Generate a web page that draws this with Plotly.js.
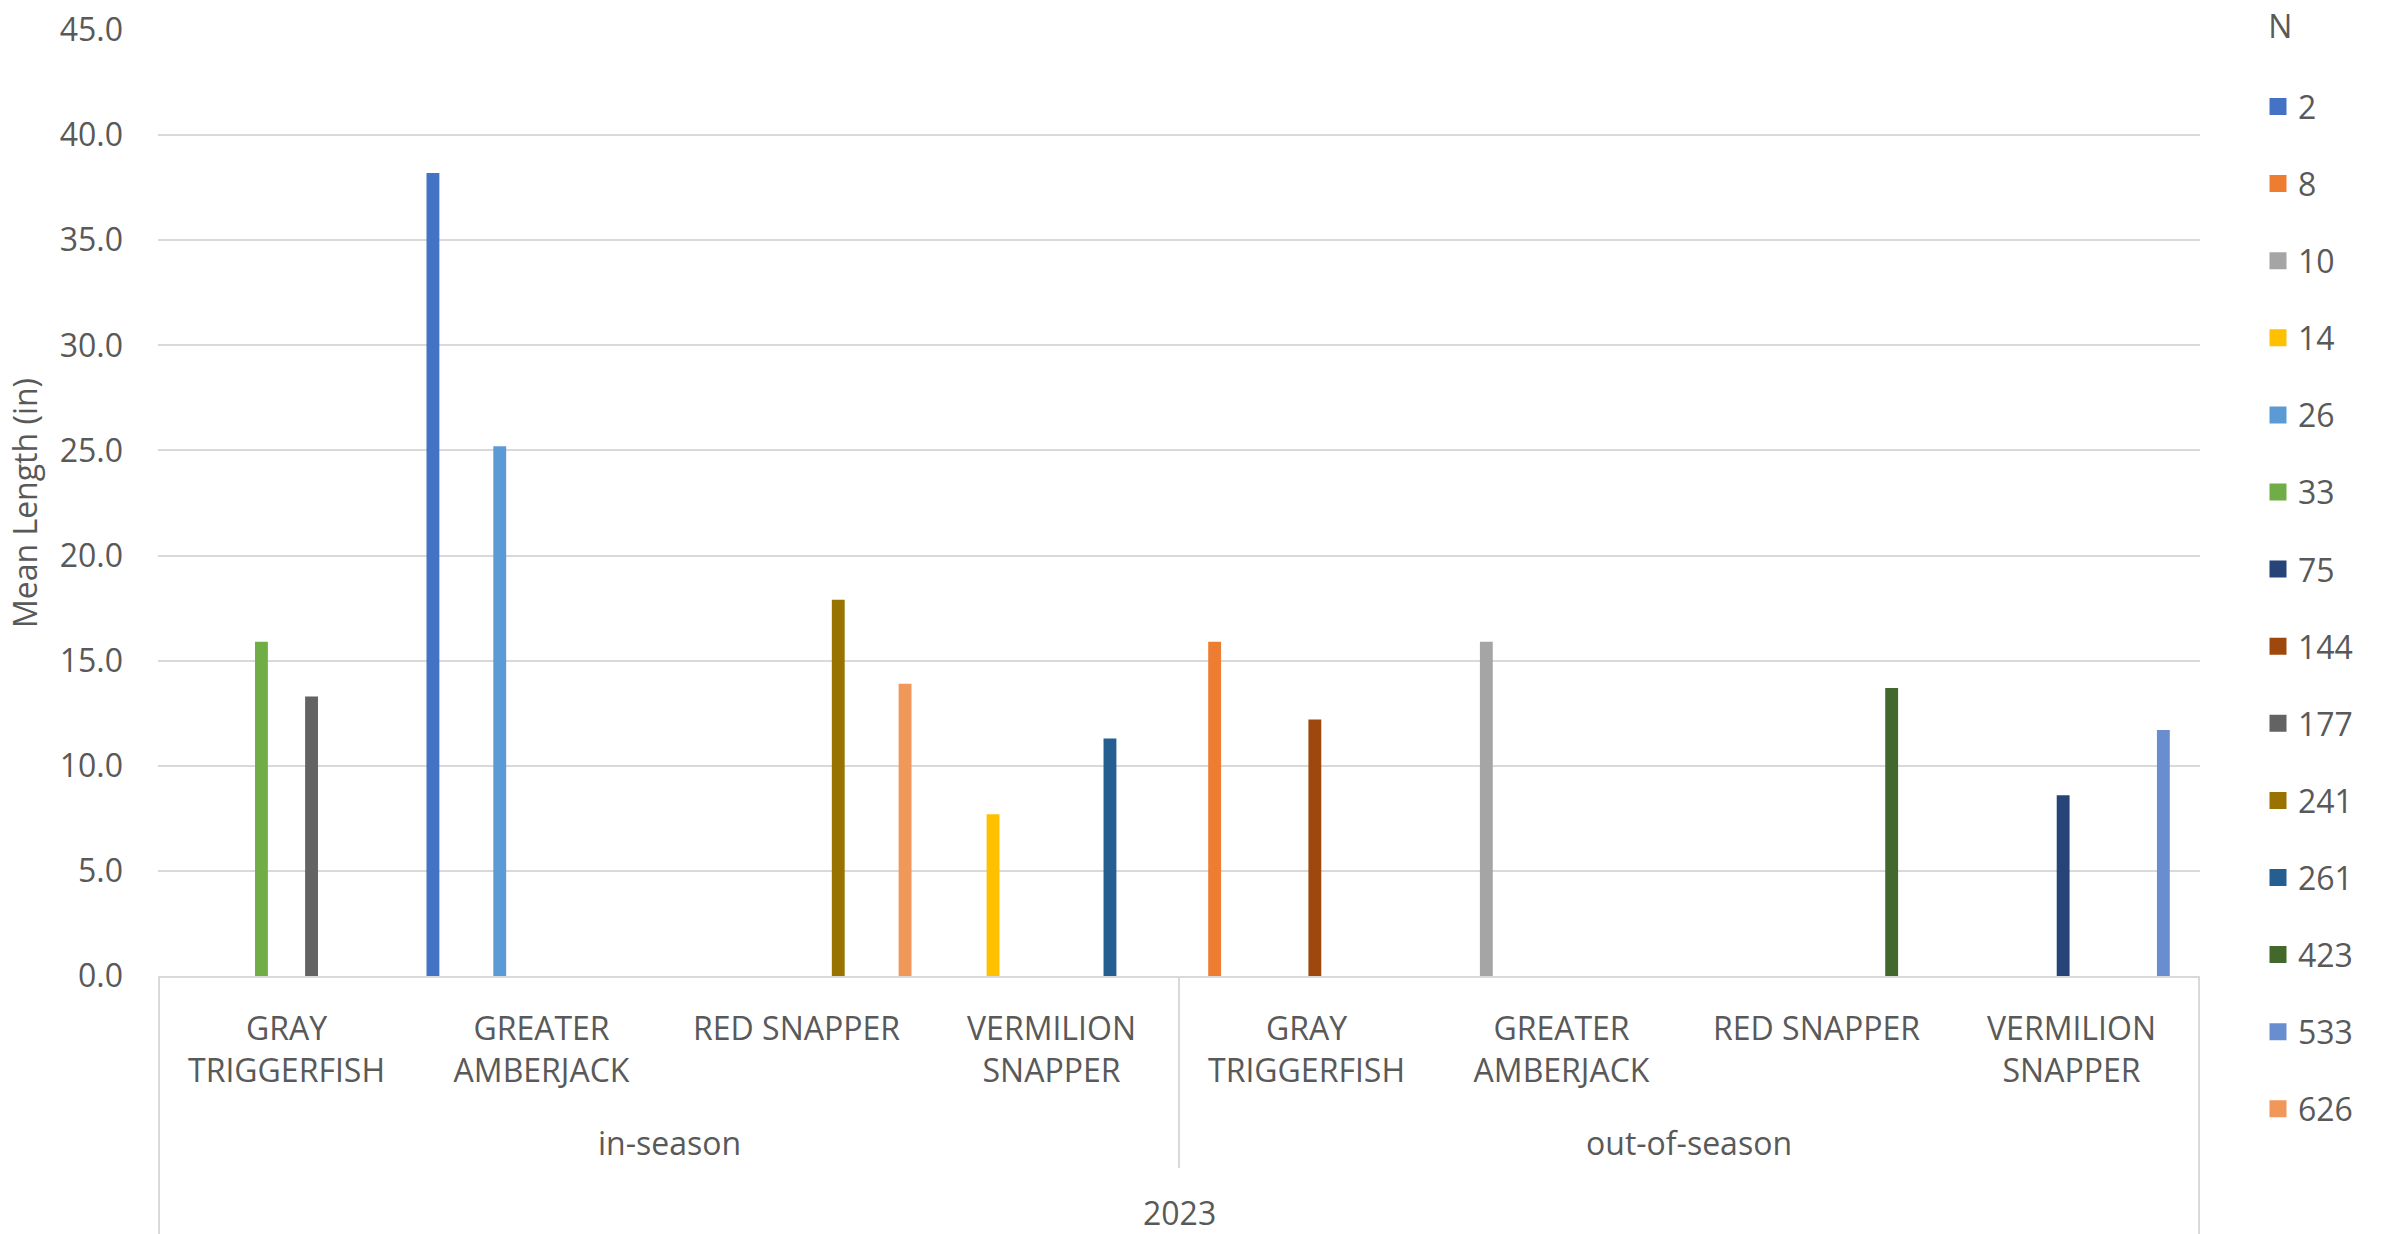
<!DOCTYPE html>
<html>
<head>
<meta charset="utf-8">
<script src="https://cdn.plot.ly/plotly-3.0.1.min.js"></script>
<style>
  html, body { margin: 0; padding: 0; background: #ffffff; }
  #chart { width: 2384px; height: 1234px; }
</style>
</head>
<body>
<div id="chart"></div>
<script>
// ---- Data ----
const year = "2023";
const seasons = ["in-season", "out-of-season"];
const species = ["GRAY TRIGGERFISH", "GREATER AMBERJACK", "RED SNAPPER", "VERMILION SNAPPER"];
const speciesLabels = ["GRAY<br>TRIGGERFISH", "GREATER<br>AMBERJACK", "RED SNAPPER", "VERMILION<br>SNAPPER"];

// Series = sample size N; values = mean length (in) per category
// category order: in-season [GT, GA, RS, VS], out-of-season [GT, GA, RS, VS]
const sampleSizes = ["2", "8", "10", "14", "26", "33", "75", "144", "177", "241", "261", "423", "533", "626"];
const lenN2   = [null, 38.2, null, null, null, null, null, null];
const lenN8   = [null, null, null, null, 15.9, null, null, null];
const lenN10  = [null, null, null, null, null, 15.9, null, null];
const lenN14  = [null, null, null, 7.7,  null, null, null, null];
const lenN26  = [null, 25.2, null, null, null, null, null, null];
const lenN33  = [15.9, null, null, null, null, null, null, null];
const lenN75  = [null, null, null, null, null, null, null, 8.6];
const lenN144 = [null, null, null, null, 12.2, null, null, null];
const lenN177 = [13.3, null, null, null, null, null, null, null];
const lenN241 = [null, null, 17.9, null, null, null, null, null];
const lenN261 = [null, null, null, 11.3, null, null, null, null];
const lenN423 = [null, null, null, null, null, null, 13.7, null];
const lenN533 = [null, null, null, null, null, null, null, 11.7];
const lenN626 = [null, null, 13.9, null, null, null, null, null];

// ---- Styles ----
const seriesColors = ["#4472C4", "#ED7D31", "#A5A5A5", "#FFC000", "#5B9BD5", "#70AD47",
                      "#264478", "#9E480E", "#636363", "#997300", "#255E91", "#43682B",
                      "#698ED0", "#F1975A"];
const FONT = "'Open Sans', 'Noto Sans', 'Liberation Sans', sans-serif";
const FS = 32;
const TXT = "#595959";
const GRID = "#D9D9D9";

const seriesValues = [lenN2, lenN8, lenN10, lenN14, lenN26, lenN33, lenN75, lenN144,
                      lenN177, lenN241, lenN261, lenN423, lenN533, lenN626];

const categories = seasons.flatMap(s => species.map(sp => s + " | " + sp));
const tickText = seasons.flatMap(() => speciesLabels);

// Real bars (legend entries come from the swatch-only traces below)
const barTraces = sampleSizes.map((n, i) => ({
  type: "bar",
  name: n,
  legendgroup: "g" + n,
  showlegend: false,
  x: categories,
  y: seriesValues[i],
  marker: { color: seriesColors[i] },
  hovertemplate: "%{x}<br>N=" + n + ": %{y:.1f}<extra></extra>"
}));

// Legend swatches (no drawn bar, on a hidden overlay axis so they take no bar slots)
const legendTraces = sampleSizes.map((n, i) => ({
  type: "bar",
  name: n,
  legendgroup: "g" + n,
  showlegend: true,
  x: [categories[0]],
  y: [null],
  xaxis: "x2",
  yaxis: "y2",
  hoverinfo: "skip",
  marker: { color: seriesColors[i], line: { color: seriesColors[i], width: 5 } }
}));

// pixel helpers for paper coords (plot area 158..2200 x 30..976)
const PL = 158, PR = 2200, PT = 30, PB = 976;
const py = (p) => (PB - p) / (PB - PT);
const px = (p) => (p - PL) / (PR - PL);

const layout = {
  width: 2384,
  height: 1234,
  margin: { l: PL, r: 2384 - PR, t: PT, b: 1234 - PB, pad: 0, autoexpand: false },
  paper_bgcolor: "#ffffff",
  plot_bgcolor: "#ffffff",
  font: { family: FONT, size: FS, color: TXT },
  barmode: "group",
  bargap: 0.083,
  bargroupgap: 0.23,
  showlegend: true,
  legend: {
    title: { text: "\u00a0N<br>\u00a0", font: { family: FONT, size: FS, color: TXT } },
    font: { family: FONT, size: FS, color: TXT },
    traceorder: "grouped",
    tracegroupgap: 32.5,
    maxheight: 1234,
    x: px(2258),
    xanchor: "left",
    y: py(-4),
    yanchor: "top",
    bgcolor: "rgba(0,0,0,0)",
    borderwidth: 0
  },
  xaxis: {
    type: "category",
    categoryorder: "array",
    categoryarray: categories,
    tickvals: categories,
    ticktext: tickText,
    ticks: "",
    showgrid: false,
    showline: true,
    linecolor: GRID,
    linewidth: 2,
    zeroline: false,
    tickfont: { family: FONT, size: FS, color: TXT },
    ticklabelstandoff: 24,
    fixedrange: true
  },
  yaxis: {
    range: [0, 45],
    dtick: 5,
    tick0: 0,
    tickformat: ".1f",
    showgrid: true,
    gridcolor: GRID,
    gridwidth: 2,
    zeroline: false,
    showline: false,
    ticks: "",
    ticklabelstandoff: 34,
    tickfont: { family: FONT, size: FS, color: TXT },
    title: { text: "Mean Length (in)", font: { family: FONT, size: FS, color: TXT }, standoff: 12 },
    fixedrange: true
  },
  xaxis2: { overlaying: "x", visible: false, fixedrange: true, type: "category" },
  yaxis2: { overlaying: "y", visible: false, fixedrange: true, range: [0, 1] },
  shapes: [
    { type: "line", xref: "x", yref: "paper", x0: -0.5, x1: -0.5, y0: 0, y1: py(1234), line: { color: GRID, width: 2 } },
    { type: "line", xref: "x", yref: "paper", x0: 3.5, x1: 3.5, y0: 0, y1: py(1168), line: { color: GRID, width: 2 } },
    { type: "line", xref: "x", yref: "paper", x0: 7.5, x1: 7.5, y0: 0, y1: py(1234), line: { color: GRID, width: 2 } }
  ],
  annotations: [
    { xref: "x", yref: "paper", x: 1.5, y: py(1142), text: seasons[0], showarrow: false, yanchor: "middle", xanchor: "center", font: { family: FONT, size: FS, color: TXT } },
    { xref: "x", yref: "paper", x: 5.5, y: py(1142), text: seasons[1], showarrow: false, yanchor: "middle", xanchor: "center", font: { family: FONT, size: FS, color: TXT } },
    { xref: "x", yref: "paper", x: 3.5, y: py(1212), text: year, showarrow: false, yanchor: "middle", xanchor: "center", font: { family: FONT, size: FS, color: TXT } }
  ]
};

Plotly.newPlot("chart", barTraces.concat(legendTraces), layout, { displayModeBar: false, responsive: false });
</script>
</body>
</html>
